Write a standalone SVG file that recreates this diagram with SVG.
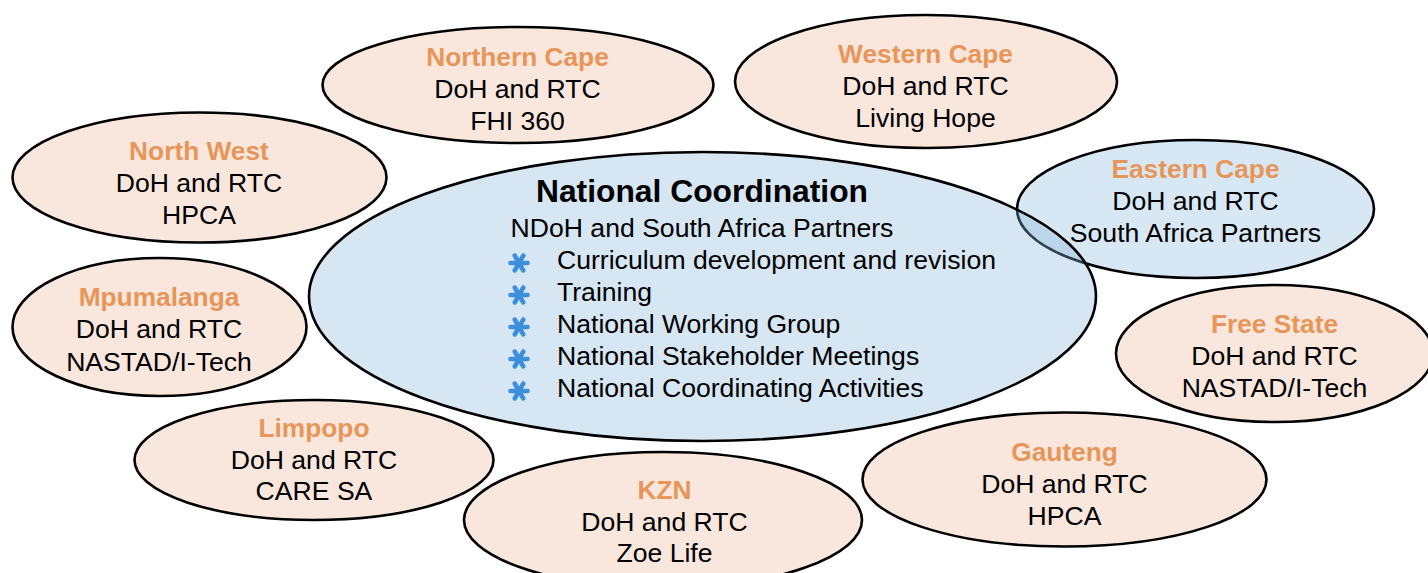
<svg xmlns="http://www.w3.org/2000/svg" width="1428" height="573" viewBox="0 0 1428 573">
  <style>
    .prov { fill: #F9E7DD; stroke: #000; stroke-width: 2.6; }
    .natl { fill: rgb(134,181,217); fill-opacity: 0.34; stroke: #000; stroke-width: 2.6; }
    .blue { fill: #D7E7F3; stroke: #000; stroke-width: 2.6; }
    text { font-family: "Liberation Sans", Arial, Helvetica, sans-serif; font-size: 26.6px; fill: #000; }
    .c { text-anchor: middle; }
    .head { font-weight: bold; fill: #E8955A; font-size: 26.3px; }
    .title { font-weight: bold; font-size: 31.8px; }
  </style>
  <defs>
    <!-- six-spoke bullet star -->
    <g id="star" stroke="#3B8EDB" stroke-width="4.6" stroke-linecap="round">
      <line x1="-8.5" y1="0" x2="8.5" y2="0"/>
      <line x1="-4.25" y1="-7.4" x2="4.25" y2="7.4"/>
      <line x1="-4.25" y1="7.4" x2="4.25" y2="-7.4"/>
    </g>
  </defs>

  <g id="connectors"/>

  <g id="north-west">
    <ellipse class="prov" cx="199.5" cy="177.5" rx="187" ry="65"/>
    <text class="c head" x="199" y="160">North West</text>
    <text class="c" x="199" y="192">DoH and RTC</text>
    <text class="c" x="199" y="224">HPCA</text>
  </g>

  <g id="mpumalanga">
    <ellipse class="prov" cx="159.5" cy="327" rx="147" ry="69"/>
    <text class="c head" x="159" y="306">Mpumalanga</text>
    <text class="c" x="159" y="338">DoH and RTC</text>
    <text class="c" x="159" y="370.5">NASTAD/I-Tech</text>
  </g>

  <g id="limpopo">
    <ellipse class="prov" cx="314" cy="460" rx="179.5" ry="60"/>
    <text class="c head" x="314" y="436.5">Limpopo</text>
    <text class="c" x="314" y="468.5">DoH and RTC</text>
    <text class="c" x="314" y="500">CARE SA</text>
  </g>

  <g id="kzn">
    <ellipse class="prov" cx="663" cy="520" rx="199" ry="68"/>
    <text class="c head" x="664.5" y="499">KZN</text>
    <text class="c" x="664.5" y="530.5">DoH and RTC</text>
    <text class="c" x="664.5" y="562">Zoe Life</text>
  </g>

  <g id="gauteng">
    <ellipse class="prov" cx="1064.5" cy="479.5" rx="202" ry="67"/>
    <text class="c head" x="1064.5" y="460.5">Gauteng</text>
    <text class="c" x="1064.5" y="492.5">DoH and RTC</text>
    <text class="c" x="1064.5" y="525">HPCA</text>
  </g>

  <g id="free-state">
    <ellipse class="prov" cx="1274.5" cy="353.5" rx="158.5" ry="68.5"/>
    <text class="c head" x="1274.5" y="332.5">Free State</text>
    <text class="c" x="1274.5" y="364.5">DoH and RTC</text>
    <text class="c" x="1274.5" y="396.5">NASTAD/I-Tech</text>
  </g>

  <g id="northern-cape">
    <ellipse class="prov" cx="518" cy="85" rx="195.5" ry="58"/>
    <text class="c head" x="517.5" y="66">Northern Cape</text>
    <text class="c" x="517.5" y="98">DoH and RTC</text>
    <text class="c" x="517.5" y="130">FHI 360</text>
  </g>

  <g id="western-cape">
    <ellipse class="prov" cx="926" cy="81.5" rx="191" ry="66.5"/>
    <text class="c head" x="925.5" y="63">Western Cape</text>
    <text class="c" x="925.5" y="95">DoH and RTC</text>
    <text class="c" x="925.5" y="127">Living Hope</text>
  </g>

  <g id="eastern-cape">
    <ellipse class="blue" cx="1195.5" cy="209" rx="178.5" ry="69"/>
    <text class="c head" x="1195.5" y="177.5">Eastern Cape</text>
    <text class="c" x="1195.5" y="210">DoH and RTC</text>
    <text class="c" x="1195.5" y="241.5">South Africa Partners</text>
  </g>

  <g id="national-coordination">
    <ellipse class="natl" cx="702.5" cy="296.5" rx="393.5" ry="144.5"/>
    <text class="c title" x="702" y="202">National Coordination</text>
    <text class="c" x="702" y="237">NDoH and South Africa Partners</text>
    <use href="#star" x="519" y="263"/>
    <use href="#star" x="519" y="295"/>
    <use href="#star" x="519" y="327"/>
    <use href="#star" x="519" y="359"/>
    <use href="#star" x="519" y="391"/>
    <text x="557" y="269">Curriculum development and revision</text>
    <text x="557" y="301">Training</text>
    <text x="557" y="333">National Working Group</text>
    <text x="557" y="365">National Stakeholder Meetings</text>
    <text x="557" y="397">National Coordinating Activities</text>
  </g>
</svg>
